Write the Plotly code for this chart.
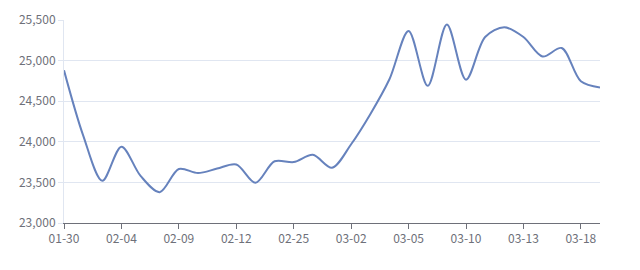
import plotly.graph_objects as go

dates = ["01-30", "02-02", "02-03", "02-04", "02-05", "02-06", "02-09", "02-10",
         "02-11", "02-12", "02-13", "02-24", "02-25", "02-26", "02-27", "03-02",
         "03-03", "03-04", "03-05", "03-06", "03-09", "03-10", "03-11", "03-12",
         "03-13", "03-16", "03-17", "03-18", "03-19"]
prices = [24880, 24080, 23520, 23940, 23580, 23380, 23665, 23615,
          23670, 23720, 23495, 23760, 23750, 23840, 23680, 23970,
          24340, 24770, 25365, 24690, 25445, 24765, 25290, 25410,
          25290, 25050, 25155, 24745, 24670]
tick_labels = [d for i, d in enumerate(dates) if i % 3 == 0]
y_ticks = [23000, 23500, 24000, 24500, 25000, 25500]

fig = go.Figure()
fig.add_trace(go.Scatter(
    x=dates, y=prices, mode="lines",
    line=dict(color="#6682bd", width=2, shape="spline", smoothing=0.9),
    hoverinfo="x+y",
))

fig.update_layout(
    width=640, height=270,
    margin=dict(l=64, r=40, t=10, b=47),
    paper_bgcolor="white", plot_bgcolor="white",
    showlegend=False,
    font=dict(family="Noto Sans CJK SC, Noto Sans, sans-serif", size=12, color="#6e7079"),
)
fig.update_xaxes(
    type="category", range=[0, len(dates) - 1],
    tickmode="array", tickvals=tick_labels, ticktext=tick_labels,
    showgrid=False, showline=True, linecolor="#6e7079", linewidth=1,
    ticks="outside", ticklen=5, tickcolor="#6e7079",
    zeroline=False,
)
fig.update_yaxes(
    range=[23000, 25500], tickmode="array", tickvals=y_ticks,
    tickformat=",", showgrid=True, gridcolor="#e0e6f1", gridwidth=1,
    showline=True, linecolor="#e0e6f1", zeroline=False,
    ticks="outside", ticklen=5, tickcolor="#e0e6f1",
)

fig.write_html("out.html")
